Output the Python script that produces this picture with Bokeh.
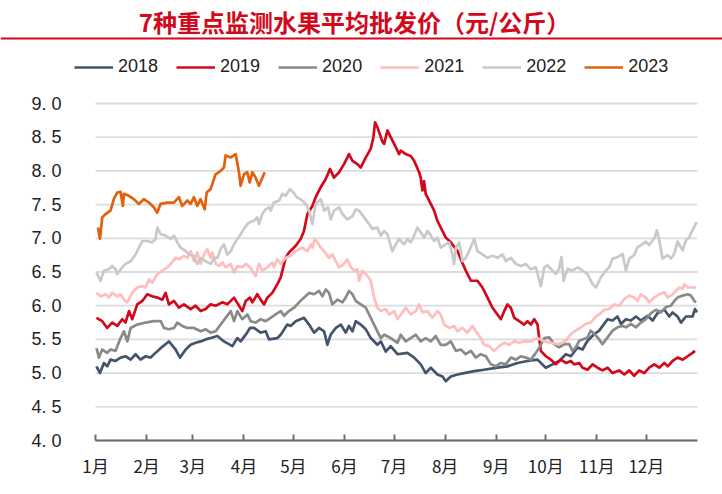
from bokeh.plotting import figure
from bokeh.models import (LinearAxis, FixedTicker, Range1d, Label, Legend,
                          LegendItem, Span)
from bokeh.embed import file_html
from bokeh.resources import INLINE

# ---------------- data ----------------
TITLE = "7种重点监测水果平均批发价（元/公斤）"
MONTH_START_DAYS = [0, 31, 59, 90, 120, 151, 181, 212, 243, 273, 304, 334]
MONTH_LABELS = ["1月", "2月", "3月", "4月", "5月", "6月",
                "7月", "8月", "9月", "10月", "11月", "12月"]
DAY_END = 365
Y_TICKS = [4.0, 4.5, 5.0, 5.5, 6.0, 6.5, 7.0, 7.5, 8.0, 8.5, 9.0]
Y_TICK_LABELS = ["4. 0", "4. 5", "5. 0", "5. 5", "6. 0", "6. 5",
                 "7. 0", "7. 5", "8. 0", "8. 5", "9. 0"]
YEARS = ["2018", "2019", "2020", "2021", "2022", "2023"]

# (day of year, price)
PRICE_2018 = [(0.6,5.10),(2.7,5.00),(5.1,5.15),(7.1,5.10),(9.1,5.20),(12.2,5.18),(15.2,5.23),
    (18.2,5.25),(21.3,5.20),(24.3,5.28),(27.3,5.20),(30.4,5.25),(33.4,5.23),(36.4,5.30),
    (39.5,5.37),(44.5,5.47),(48.6,5.35),(51.2,5.23),(54.7,5.35),(57.7,5.42),(60.7,5.45),
    (63.8,5.47),(66.8,5.50),(69.8,5.52),(73.9,5.55),(77.9,5.47),(83.0,5.40),(86.0,5.52),
    (88.0,5.47),(91.1,5.57),(93.7,5.67),(96.1,5.67),(100.1,5.60),(103.2,5.62),(105.2,5.50),
    (110.3,5.52),(112.3,5.57),(116.3,5.72),(118.3,5.70),(121.4,5.77),(126.4,5.82),(129.5,5.72),
    (132.5,5.60),(135.5,5.67),(138.6,5.62),(140.6,5.42),(142.6,5.57),(145.7,5.67),(148.7,5.72),
    (151.7,5.60),(153.7,5.70),(155.8,5.62),(157.8,5.77),(160.8,5.72),(163.9,5.65),(166.9,5.52),
    (170.9,5.42),(173.0,5.47),(176.0,5.32),(179.0,5.40),(183.1,5.28),(189.1,5.30),(193.2,5.23),
    (197.2,5.13),(200.2,5.00),(203.3,5.08),(207.3,4.98),(210.4,4.95),(212.4,4.88),(215.4,4.95),
    (219.5,4.98),(223.5,5.00),(229.6,5.03),(235.6,5.05),(243.7,5.08),(249.8,5.10),(255.9,5.15),
    (261.9,5.18),(268.0,5.20),(273.0,5.08),(277.1,5.13),(281.1,5.18),(285.2,5.28),(288.2,5.25),
    (292.3,5.38),(295.3,5.35),(298.3,5.48),(302.4,5.58),(305.4,5.63),(308.4,5.73),(310.5,5.80),
    (313.5,5.78),(316.5,5.84),(318.6,5.73),(321.6,5.80),(324.6,5.78),(327.7,5.84),(330.7,5.78),
    (334.7,5.85),(337.8,5.78),(340.8,5.89),(344.9,5.94),(347.9,5.84),(349.9,5.90),(352.9,5.84),
    (355.0,5.75),(358.0,5.84),(362.0,5.84),(363.5,5.95),(364.7,5.90)]

PRICE_2019 = [(0.6,5.82),(4.1,5.77),(7.1,5.67),(10.1,5.75),(13.2,5.70),(16.2,5.80),(18.2,5.75),
    (20.3,5.92),(22.3,5.80),(25.3,6.02),(28.4,6.07),(31.4,6.17),(34.4,6.14),(37.5,6.12),
    (40.5,6.09),(42.5,6.19),(44.5,6.02),(47.6,6.07),(50.6,5.97),(53.6,6.02),(57.7,5.95),
    (60.7,6.00),(63.8,5.92),(66.8,5.95),(69.8,6.02),(72.9,6.00),(76.9,6.05),(79.9,6.02),
    (84.0,6.12),(89.0,5.92),(91.1,6.07),(93.7,6.12),(95.1,6.05),(98.1,6.17),(100.1,6.09),
    (102.2,6.02),(104.2,6.12),(107.2,6.19),(110.3,6.32),(112.3,6.42),(113.3,6.52),(115.3,6.71),
    (117.3,6.79),(119.4,6.84),(121.4,6.89),(124.4,6.99),(126.4,7.11),(128.5,7.36),(131.5,7.48),
    (133.5,7.61),(136.6,7.76),(139.6,7.88),(142.2,8.03),(144.6,7.90),(147.7,7.98),(150.7,8.10),
    (153.7,8.25),(155.8,8.15),(158.8,8.10),(160.8,8.05),(163.9,8.20),(166.9,8.33),(168.5,8.50),
    (169.5,8.72),(170.9,8.65),(174.0,8.43),(175.0,8.40),(177.0,8.60),(179.0,8.50),(182.1,8.35),
    (184.1,8.25),(185.1,8.30),(188.1,8.25),(191.1,8.22),(193.2,8.15),(196.2,7.98),(197.2,7.90),
    (198.2,7.71),(199.2,7.85),(200.2,7.66),(203.3,7.51),(205.3,7.41),(207.3,7.26),(209.3,7.16),
    (212.4,7.01),(215.4,6.94),(219.5,6.81),(221.5,6.69),(224.5,6.52),(227.6,6.37),(231.6,6.37),
    (234.6,6.27),(237.7,6.12),(240.7,5.97),(243.7,5.87),(245.8,5.80),(247.8,5.92),(249.8,6.02),
    (251.8,5.97),(253.9,5.82),(256.9,5.77),(259.9,5.72),(261.9,5.77),(264.0,5.72),(266.0,5.80),
    (268.0,5.72),(270.0,5.33),(273.1,5.25),(276.1,5.20),(279.1,5.13),(282.1,5.20),(285.2,5.15),
    (288.2,5.18),(290.2,5.13),(293.3,5.15),(295.3,5.08),(298.3,5.05),(301.4,5.13),(304.4,5.08),
    (307.4,5.04),(310.5,5.08),(313.5,5.00),(317.5,5.04),(320.6,4.98),(323.6,5.04),(326.6,4.96),
    (329.7,5.04),(332.7,5.00),(335.7,5.08),(338.8,5.13),(341.8,5.08),(344.9,5.15),(346.9,5.10),
    (349.9,5.18),(352.9,5.23),(356.0,5.20),(359.0,5.25),(362.0,5.30),(363.5,5.33)]

PRICE_2020 = [(0.6,5.37),(2.1,5.23),(4.1,5.35),(7.1,5.30),(9.1,5.35),(12.2,5.33),(15.2,5.52),
    (17.2,5.62),(19.3,5.47),(21.3,5.67),(25.3,5.72),(30.4,5.75),(35.4,5.77),(39.5,5.77),
    (41.5,5.67),(44.5,5.65),(47.6,5.67),(49.6,5.75),(52.6,5.70),(55.7,5.67),(59.7,5.67),
    (63.8,5.62),(66.8,5.65),(69.8,5.60),(72.9,5.62),(75.9,5.72),(78.9,5.82),(82.0,5.92),
    (84.0,5.77),(86.0,5.92),(89.0,5.80),(92.1,5.87),(94.1,5.77),(97.1,5.75),(100.1,5.80),
    (103.2,5.77),(106.2,5.82),(109.2,5.87),(112.3,5.92),(114.3,5.85),(117.3,5.92),(120.4,5.97),
    (123.4,6.05),(126.4,6.12),(129.5,6.19),(132.5,6.17),(135.5,6.22),(137.6,6.14),(139.6,6.24),
    (141.6,6.19),(143.6,6.02),(146.7,6.09),(149.7,6.05),(151.7,6.12),(153.7,6.22),(155.8,6.17),
    (157.8,6.07),(160.8,6.02),(163.9,5.97),(166.9,5.82),(168.9,5.72),(170.9,5.62),(173.0,5.52),
    (175.0,5.57),(179.0,5.52),(183.1,5.45),(185.1,5.57),(188.1,5.47),(191.1,5.52),(194.2,5.57),
    (197.2,5.47),(200.2,5.52),(203.3,5.47),(206.3,5.55),(209.3,5.42),(212.4,5.42),(215.4,5.47),
    (218.5,5.33),(221.5,5.35),(224.5,5.28),(227.6,5.33),(230.6,5.23),(233.6,5.28),(236.7,5.25),
    (239.7,5.13),(242.7,5.10),(245.8,5.15),(248.8,5.13),(251.8,5.23),(254.9,5.20),(257.9,5.25),
    (260.9,5.23),(264.0,5.20),(267.0,5.30),(269.6,5.40),(272.1,5.52),(275.1,5.53),(278.1,5.43),
    (281.1,5.38),(284.2,5.43),(287.2,5.43),(289.2,5.33),(291.2,5.38),(293.3,5.48),(295.3,5.50),
    (298.3,5.53),(300.3,5.63),(302.4,5.58),(304.4,5.53),(307.4,5.43),(310.5,5.53),(313.5,5.63),
    (316.5,5.68),(319.6,5.70),(321.6,5.68),(324.6,5.73),(327.7,5.68),(330.7,5.75),(333.7,5.80),
    (336.8,5.89),(339.8,5.94),(342.8,5.90),(345.9,5.98),(348.9,6.00),(350.9,6.07),(352.9,6.12),
    (356.0,6.15),(359.0,6.17),(361.0,6.15),(363.1,6.07),(364.1,6.05)]

PRICE_2021 = [(0.6,6.19),(3.1,6.14),(6.1,6.17),(8.1,6.12),(10.1,6.19),(13.2,6.14),(15.2,6.17),
    (17.2,6.09),(19.3,6.05),(22.3,6.19),(25.3,6.27),(28.4,6.29),(30.4,6.27),(32.4,6.39),
    (34.4,6.34),(37.5,6.47),(40.5,6.52),(43.5,6.57),(45.6,6.62),(48.6,6.71),(50.6,6.69),
    (53.6,6.74),(55.7,6.71),(57.7,6.81),(59.7,6.66),(61.7,6.79),(63.8,6.62),(65.8,6.76),
    (67.8,6.84),(69.8,6.71),(70.8,6.79),(72.9,6.62),(74.9,6.59),(76.9,6.64),(78.9,6.57),
    (82.0,6.62),(84.0,6.49),(86.0,6.59),(89.0,6.57),(91.1,6.62),(93.7,6.57),(97.1,6.44),
    (99.1,6.62),(101.1,6.52),(104.2,6.57),(107.2,6.64),(108.2,6.57),(110.3,6.69),(112.3,6.62),
    (115.3,6.71),(118.3,6.74),(121.4,6.81),(125.4,6.86),(128.5,6.81),(130.5,6.91),(131.5,6.86),
    (132.9,6.99),(134.5,6.94),(136.6,6.86),(138.6,6.81),(141.6,6.71),(143.6,6.76),(145.7,6.66),
    (147.7,6.57),(150.7,6.62),(152.7,6.69),(154.8,6.57),(156.8,6.52),(158.8,6.54),(159.8,6.37),
    (161.8,6.52),(164.9,6.44),(166.9,6.37),(168.9,6.12),(170.9,5.97),(173.0,5.92),(176.0,5.95),
    (178.0,5.87),(181.1,5.92),(183.1,5.80),(185.1,5.87),(188.1,5.97),(191.1,5.87),(194.2,5.92),
    (196.2,6.02),(198.2,5.90),(201.3,5.92),(204.3,5.82),(207.3,5.92),(209.3,5.87),(211.4,5.72),
    (214.4,5.67),(217.4,5.70),(219.5,5.62),(222.5,5.67),(225.5,5.60),(228.6,5.70),(230.6,5.62),
    (233.6,5.52),(235.6,5.42),(238.7,5.40),(241.7,5.33),(244.7,5.40),(247.8,5.45),(250.8,5.42),
    (253.9,5.47),(256.9,5.45),(259.9,5.47),(264.0,5.47),(268.0,5.52),(272.1,5.47),(276.1,5.45),
    (280.1,5.43),(283.1,5.45),(285.2,5.48),(288.2,5.58),(291.2,5.63),(294.3,5.68),(297.3,5.73),
    (300.3,5.75),(303.4,5.84),(306.4,5.89),(308.4,5.94),(311.5,5.95),(314.5,6.02),(317.5,6.00),
    (320.6,6.10),(323.6,6.15),(326.6,6.12),(328.7,6.07),(330.7,6.17),(333.7,6.12),(335.7,6.05),
    (338.8,6.12),(341.8,6.17),(344.9,6.20),(346.9,6.12),(349.9,6.17),(351.9,6.22),(354.0,6.27),
    (356.0,6.25),(357.0,6.32),(359.0,6.27),(364.1,6.27)]

PRICE_2022 = [(0.6,6.49),(3.1,6.37),(5.1,6.52),(8.1,6.54),(10.1,6.59),(12.2,6.54),(13.2,6.47),
    (16.2,6.57),(18.2,6.62),(21.3,6.66),(24.3,6.76),(26.3,6.86),(28.4,6.96),(31.4,6.96),
    (34.4,6.94),(36.4,6.99),(37.5,7.16),(39.5,7.06),(42.5,7.04),(45.6,6.99),(47.6,7.04),
    (49.6,6.94),(51.6,6.86),(54.7,6.81),(56.7,6.76),(59.7,6.74),(61.7,6.62),(63.8,6.71),
    (66.8,6.66),(69.8,6.62),(71.9,6.71),(73.9,6.71),(75.9,6.84),(77.9,6.91),(79.9,6.76),
    (82.0,6.81),(84.0,6.91),(86.0,6.99),(88.0,7.06),(90.0,7.14),(92.1,7.21),(93.7,7.24),
    (96.1,7.26),(98.1,7.31),(99.1,7.21),(101.1,7.36),(103.2,7.43),(105.2,7.46),(106.2,7.41),
    (108.2,7.53),(111.3,7.56),(113.3,7.66),(115.3,7.63),(117.9,7.73),(120.0,7.68),(122.0,7.61),
    (124.4,7.58),(127.4,7.51),(129.5,7.41),(131.5,7.21),(133.5,7.51),(136.6,7.58),(138.6,7.41),
    (141.0,7.46),(142.6,7.28),(144.6,7.41),(147.7,7.46),(149.7,7.36),(152.7,7.28),(155.8,7.33),
    (157.8,7.43),(159.8,7.41),(162.9,7.31),(165.9,7.21),(167.9,7.14),(170.9,7.16),(173.0,7.04),
    (175.0,7.11),(177.0,7.06),(180.0,6.81),(182.1,6.91),(184.1,6.99),(187.1,6.91),(189.1,6.99),
    (191.1,6.94),(193.2,7.04),(195.2,7.16),(197.2,7.09),(199.2,7.01),(201.3,7.11),(203.3,7.04),
    (205.3,6.96),(207.3,7.01),(209.3,6.86),(212.4,6.91),(214.4,6.94),(216.4,6.76),(217.4,6.62),
    (218.5,6.86),(220.5,6.94),(222.5,6.66),(224.5,6.71),(226.5,6.81),(229.6,6.99),(231.6,6.81),
    (234.6,6.76),(237.7,6.71),(240.7,6.74),(243.7,6.71),(246.8,6.76),(248.8,6.66),(251.8,6.71),
    (254.9,6.62),(257.9,6.59),(260.9,6.62),(264.0,6.54),(267.0,6.57),(270.0,6.29),(272.1,6.57),
    (274.0,6.60),(277.1,6.52),(279.1,6.47),(281.1,6.55),(282.5,6.72),(283.8,6.37),(286.2,6.55),
    (289.2,6.52),(292.3,6.57),(295.3,6.52),(298.3,6.47),(301.4,6.32),(303.4,6.27),(306.4,6.42),
    (309.4,6.52),(311.5,6.57),(313.5,6.70),(316.5,6.72),(319.6,6.77),(321.6,6.52),(323.6,6.70),
    (326.6,6.75),(328.7,6.87),(330.7,6.90),(333.7,6.95),(335.7,6.90),(338.8,7.00),(340.4,7.12),
    (341.8,6.97),(343.8,6.70),(346.9,6.75),(348.9,6.70),(350.9,6.77),(352.9,6.95),(356.0,6.82),
    (358.0,6.97),(360.0,7.02),(362.0,7.12),(364.5,7.24)]

PRICE_2023 = [(1.5,7.16),(2.7,6.99),(4.1,7.31),(6.1,7.36),(9.1,7.41),(11.1,7.58),(13.2,7.68),
    (15.2,7.69),(16.6,7.48),(17.2,7.66),(20.2,7.63),(23.3,7.58),(26.3,7.51),(29.3,7.58),
    (32.4,7.53),(35.4,7.46),(37.4,7.38),(39.4,7.51),(43.5,7.53),(47.5,7.53),(50.6,7.61),
    (52.6,7.48),(55.6,7.56),(57.7,7.51),(59.7,7.61),(61.7,7.48),(63.7,7.58),(66.2,7.43),
    (67.4,7.68),(69.8,7.73),(72.8,7.95),(75.9,8.00),(77.9,8.05),(78.9,8.23),(82.0,8.20),
    (85.0,8.25),(87.0,7.98),(88.0,7.78),(90.0,7.95),(92.0,7.98),(93.5,7.83),(95.1,7.98),
    (97.1,7.90),(99.1,7.78),(102.6,7.98)]

SERIES = [PRICE_2018, PRICE_2019, PRICE_2020, PRICE_2021, PRICE_2022, PRICE_2023]
COLORS = ["#44546A", "#D2091A", "#8A8A8A", "#FFBDBD", "#C9C9C9", "#E2600E"]

# ---------------- layout (pixels) ----------------
W, H = 722, 494
AX_LEFT, AX_RIGHT = 95, 697    # pixel x of day 0 and day 365
Y4_PX, Y9_PX = 440, 103        # pixel y of the 4.0 and 9.0 lines
px_per_day = (AX_RIGHT - AX_LEFT) / DAY_END
px_per_unit = (Y4_PX - Y9_PX) / (Y_TICKS[-1] - Y_TICKS[0])
x_start = -AX_LEFT / px_per_day
x_end = x_start + W / px_per_day
y_start = Y_TICKS[0] - (H - Y4_PX) / px_per_unit
y_end = Y_TICKS[0] + Y4_PX / px_per_unit

LATIN = "Liberation Sans"
CJK = "Noto Sans CJK SC"
TXT = "#222222"
RED = "#D2091A"
AXIS_GREY = "#6E6E6E"

p = figure(width=W, height=H, output_backend="svg", toolbar_location=None,
           x_range=Range1d(x_start, x_end), y_range=Range1d(y_start, y_end),
           x_axis_location=None, y_axis_location=None,
           min_border_left=0, min_border_right=0, min_border_top=0,
           min_border_bottom=0, outline_line_color=None,
           background_fill_color="white", border_fill_color="white")
p.grid.visible = False

# horizontal grid lines between day 0 and day 365
p.segment(x0=[0] * len(Y_TICKS), x1=[DAY_END] * len(Y_TICKS), y0=Y_TICKS, y1=Y_TICKS,
          line_color="#DCDCDC", line_width=1.8)

# x axis fixed on the 4.0 line
xa = LinearAxis(fixed_location=Y_TICKS[0], ticker=FixedTicker(ticks=MONTH_START_DAYS),
                major_label_overrides={d: lab for d, lab in zip(MONTH_START_DAYS, MONTH_LABELS)},
                bounds=(0, DAY_END), axis_line_color=AXIS_GREY, axis_line_width=2,
                major_tick_line_color=AXIS_GREY, major_tick_line_width=2,
                major_tick_in=6, major_tick_out=0, minor_tick_line_color=None,
                major_label_standoff=12, major_label_text_font=CJK,
                major_label_text_font_size="17px", major_label_text_color=TXT)
p.add_layout(xa, "below")

# y axis fixed at day 0
ya = LinearAxis(fixed_location=0, ticker=FixedTicker(ticks=Y_TICKS),
                major_label_overrides={t: s for t, s in zip(Y_TICKS, Y_TICK_LABELS)},
                axis_line_color=None, major_tick_line_color=None,
                minor_tick_line_color=None, major_label_standoff=28,
                major_label_text_font=LATIN, major_label_text_font_size="18px",
                major_label_text_color=TXT)
p.add_layout(ya, "left")

# series
items = []
for year, data, color in zip(YEARS, SERIES, COLORS):
    days = [d for d, _ in data]
    vals = [v for _, v in data]
    r = p.line(days, vals, line_color=color, line_width=2.7, line_join="round")
    items.append(LegendItem(label=year, renderers=[r]))

legend = Legend(items=items, orientation="horizontal", location=(74, 417),
                glyph_width=39, glyph_height=14, label_standoff=5, spacing=18,
                padding=0, margin=0, border_line_color=None,
                background_fill_alpha=0, label_text_font=LATIN,
                label_text_font_size="18px", label_text_color=TXT)
p.add_layout(legend)

# title and red rule
p.add_layout(Label(x=354, y=H - 21, x_units="screen", y_units="screen",
                   text=TITLE, text_align="center", text_baseline="middle",
                   text_font=CJK, text_font_size="24px", text_font_style="bold",
                   text_color=RED))
p.add_layout(Span(location=Y_TICKS[0] + (Y4_PX - 38) / px_per_unit,
                  dimension="width", line_color=RED, line_width=2))

open("out.html", "w").write(file_html(p, INLINE))
